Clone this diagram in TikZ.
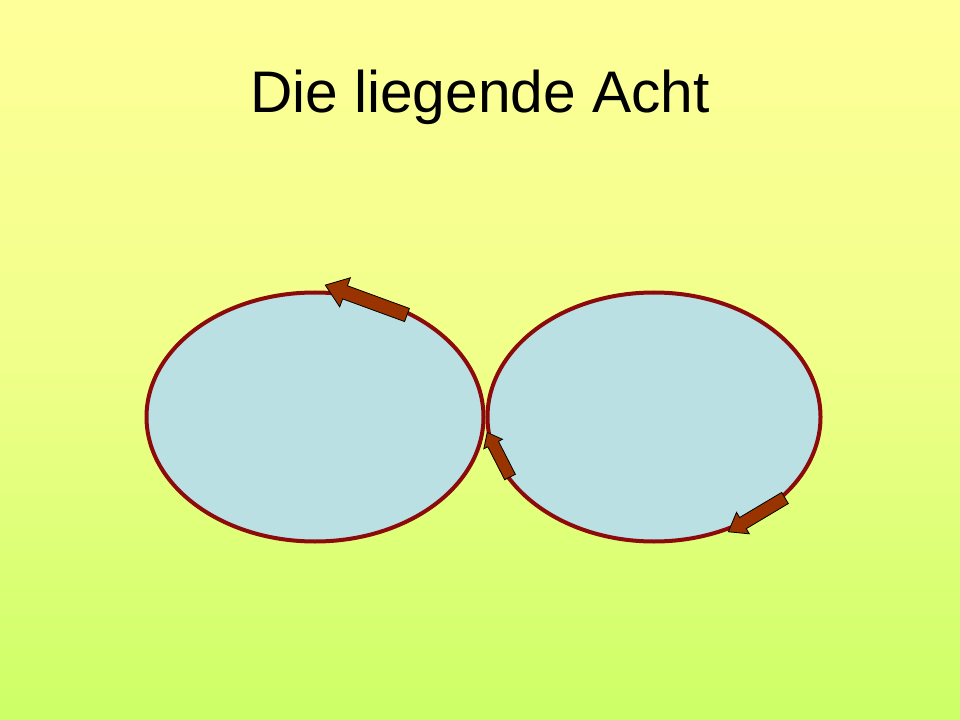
\documentclass[tikz,border=0pt]{standalone}
\usepackage{fontspec}
\setmainfont{Liberation Sans}

\definecolor{bgtop}{RGB}{255,255,153}
\definecolor{bgbottom}{RGB}{204,255,102}
\definecolor{loopfill}{RGB}{187,224,227}
\definecolor{loopline}{RGB}{140,10,10}
\definecolor{arrowfill}{RGB}{153,51,0}

\tikzset{every picture/.style={line width=0.75pt}}
\tikzset{
  loopring/.style={draw=loopline, fill=loopfill, line width=3pt},
  flowarrow/.style={draw=black, fill=arrowfill, line width=0.6pt, line join=miter}
}

% block arrow: tail x, tail y, angle, length, shaft half width, head length, head half width
\newcommand{\flowarrow}[7]{%
\draw [flowarrow, shift={(#1,#2)}, rotate=#3] (0,-#5) -- ({#4-#6},-#5) -- ({#4-#6},-#7) -- (#4,0) -- ({#4-#6},#7) -- ({#4-#6},#5) -- (0,#5) -- cycle ;}

\begin{document}
\begin{tikzpicture}[x=0.75pt,y=0.75pt,yscale=-1,xscale=1]
\useasboundingbox (0,0) rectangle (960,720);

%Shape: Rectangle [background]
\shade [top color=bgtop, bottom color=bgbottom, middle color=bgtop!70!bgbottom] (0,0) rectangle (960,720);

%Shape: Ellipse [left loop]
\draw [loopring] (315,417) ellipse (168.5 and 124.5);
%Shape: Ellipse [right loop]
\draw [loopring] (654,417) ellipse (166.5 and 124.5);

%Shape: Block Arrow [top]
\flowarrow{407}{315}{-159.9}{87}{7}{21}{15.5}
%Shape: Block Arrow [middle]
\flowarrow{510}{477}{-117.1}{50}{6}{13}{10.5}
%Shape: Block Arrow [bottom]
\flowarrow{785}{498}{149.2}{66}{6.5}{17}{12.5}

% Text Node
\node (title) at (480,113) [anchor=base, inner sep=0pt, font=\fontsize{44}{52}\selectfont] {Die liegende Acht};

\end{tikzpicture}
\end{document}
